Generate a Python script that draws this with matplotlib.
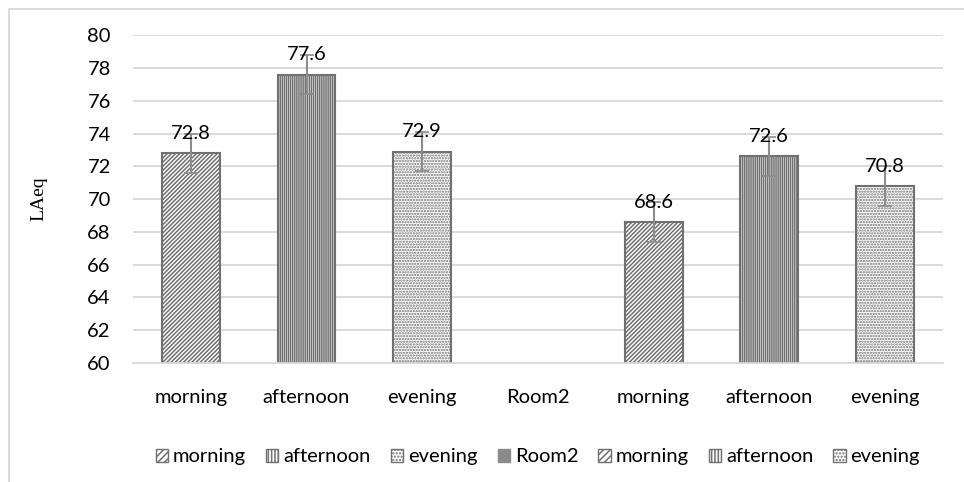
"""Recreate LAeq bar chart (morning / afternoon / evening, two rooms)."""
import matplotlib
matplotlib.use('Agg')
import matplotlib.pyplot as plt
from matplotlib.patches import Patch, Rectangle
import numpy as np

matplotlib.rcParams['font.family'] = ['Lato', 'DejaVu Sans']
matplotlib.rcParams['hatch.linewidth'] = 1.1
matplotlib.rcParams['hatch.color'] = '#666666'

categories = ['morning', 'afternoon', 'evening', 'Room2', 'morning', 'afternoon', 'evening']
values = [72.8, 77.6, 72.9, np.nan, 68.6, 72.6, 70.8]
errors = [1.2, 1.2, 1.2, np.nan, 1.2, 1.2, 1.2]
hatches = ['////////', '||||||||', '......', '', '////////', '||||||||', '......']
yticks = [60, 62, 64, 66, 68, 70, 72, 74, 76, 78, 80]

edge = '#707070'
fs = 14.5
fig = plt.figure(figsize=(9.64, 4.82), dpi=100)
ax = fig.add_axes([0.138, 0.247, 0.840, 0.680])

x = np.arange(len(categories))
for i, (v, e, h) in enumerate(zip(values, errors, hatches)):
    if np.isnan(v):
        continue
    ax.bar(x[i], v - 60, bottom=60, width=0.5, facecolor='white',
           edgecolor=edge, hatch=h, linewidth=1.5, zorder=2)
    ax.errorbar(x[i], v, yerr=e, color='#8c8c8c', capsize=5, elinewidth=1.5,
                capthick=1.2, zorder=3)
    ax.annotate(f'{v:.1f}', xy=(x[i], v), xytext=(0, 8), textcoords='offset points',
                ha='center', va='bottom', fontsize=fs, zorder=4)

ax.set_xlim(-0.5, len(categories) - 0.5)
ax.set_ylim(60, 80)
ax.set_yticks(yticks)
ax.set_xticks(x)
ax.set_xticklabels(categories, fontsize=fs)
ax.tick_params(axis='y', labelsize=fs, length=0, pad=16)
ax.tick_params(axis='x', length=0, pad=19)
ax.grid(axis='y', color='#d9d9d9', linewidth=1.3, zorder=0)
ax.set_axisbelow(True)
for s in ['top', 'right', 'left']:
    ax.spines[s].set_visible(False)
ax.spines['bottom'].set_color('#d9d9d9')
ax.spines['bottom'].set_linewidth(1.3)
ax.set_ylabel('LAeq', family='Liberation Serif', fontsize=14, labelpad=29)

# legend, Room2 shown as a solid gray square
handles = []
for c, h in zip(categories, hatches):
    if c == 'Room2':
        handles.append(Patch(facecolor='#8a8a8a', edgecolor='#8a8a8a', label=c))
    else:
        handles.append(Patch(facecolor='white', edgecolor=edge, hatch=h[:5], label=c))
ax.legend(handles=handles, loc='upper center', bbox_to_anchor=(0.5, -0.205),
          ncol=7, frameon=False, fontsize=fs, handlelength=0.6, handleheight=0.6,
          handletextpad=0.25, columnspacing=1.0)

# outer chart border (only left/top visible in crop)
fig.patches.append(Rectangle((9 / 964, -0.1), 2, 1.1 - 9 / 482, transform=fig.transFigure,
                             fill=False, edgecolor='#d9d9d9', linewidth=1.3))

fig.savefig('out.png', dpi=100, facecolor='white')
print('OK: out.png')
